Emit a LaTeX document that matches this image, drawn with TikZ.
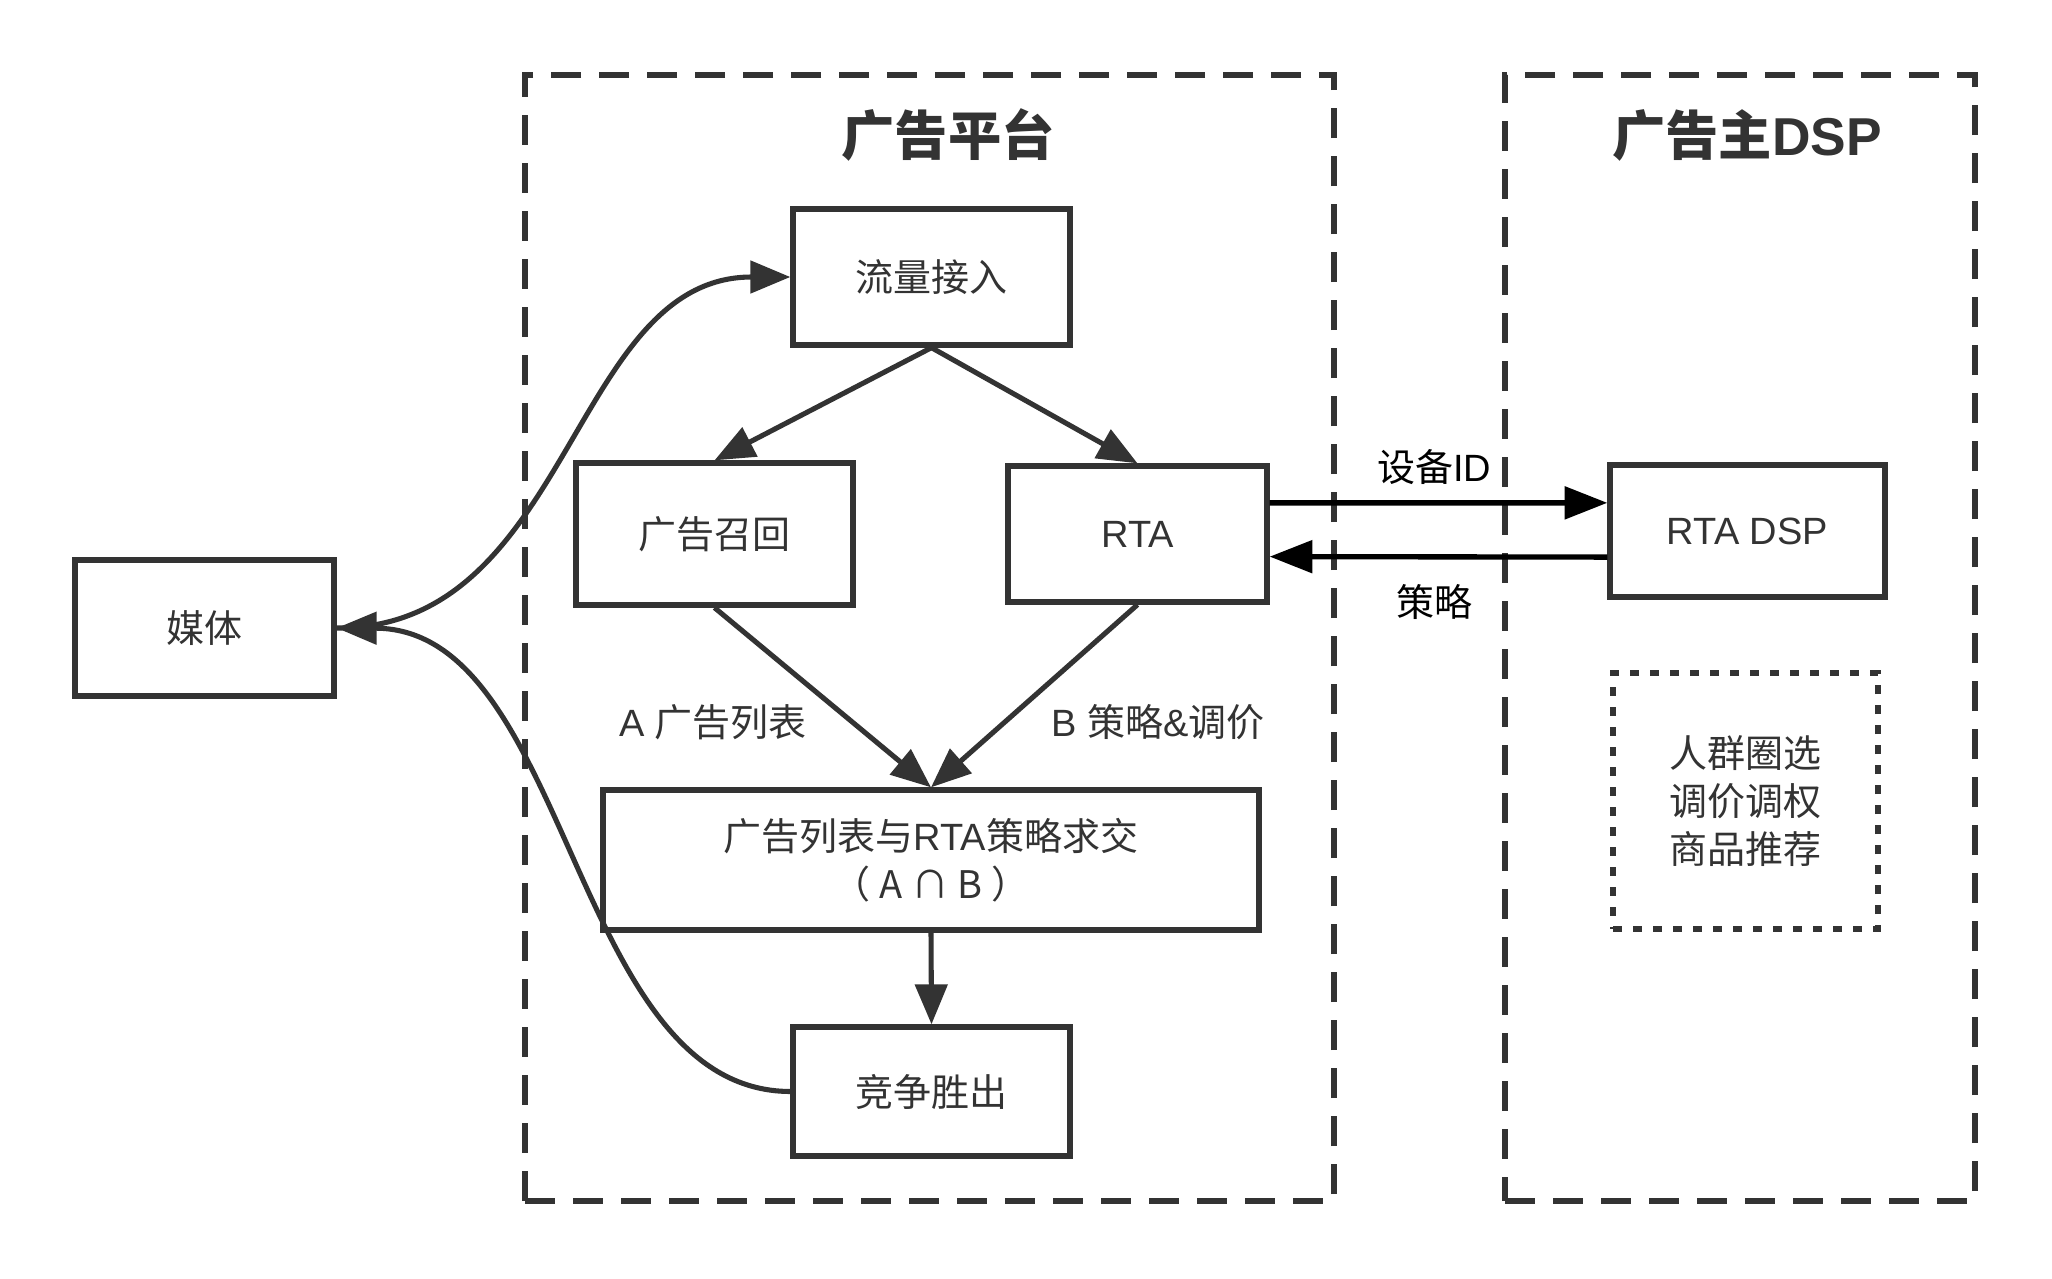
\documentclass[tikz,border=0pt]{standalone}
\usepackage{fontspec}
\setmainfont{Liberation Sans}
\newfontfamily\cjk{Noto Sans CJK SC}
\usetikzlibrary{arrows.meta,calc}
\definecolor{ink}{HTML}{333333}
\begin{document}
\begin{tikzpicture}[x=0.75pt,y=-0.75pt,
  sz/.style 2 args={minimum width={#1*0.75pt},minimum height={#2*0.75pt}},
  box/.style={draw=ink,line width=4pt,text=ink,inner sep=0pt,font=\fontsize{28.5}{36}\selectfont},
  dotbox/.style={box,line width=3.8pt,dash pattern=on 6.75pt off 8.25pt},
  dashbox/.style={draw=ink,line width=4.4pt,dash pattern=on 22.5pt off 13.5pt,inner sep=0pt},
  title/.style={text=ink,inner sep=0pt,font=\fontsize{40}{48}\selectfont\bfseries},
  lbl/.style={text=ink,inner sep=0pt,font=\fontsize{28.5}{36}\selectfont},
  arr/.style={draw=ink,line width=3.8pt,-{Triangle[length=30pt,width=24pt]}},
  arrk/.style={draw=black,line width=4pt,-{Triangle[length=32pt,width=24pt]}}
]
\useasboundingbox (0,0) rectangle (2052,1278);
\fill[white] (0,0) rectangle (2052,1278);

% containers
\node[dashbox,sz={809}{1126}] (plat) at (929.5,638) {};
\node[dashbox,sz={470}{1126}] (dspgrp) at (1740,638) {};
\node[title] (plattitle) at (948,135) {\cjk 广告平台};
\node[title] (dsptitle) at (1747,135) {{\cjk 广告主}DSP};

% nodes
\node[box,sz={259}{136}] (media) at (204.5,628) {\cjk 媒体};
\node[box,sz={277}{136}] (flow) at (931.5,277) {\cjk 流量接入};
\node[box,sz={277}{142}] (recall) at (714.5,534) {\cjk 广告召回};
\node[box,sz={259}{136}] (rta) at (1137.5,534) {RTA};
\node[box,sz={656}{140},align=center] (inter) at (931,860)
  {{\cjk 广告列表与}RTA{\cjk 策略求交}\\{\cjk （ A ∩ B ）}};
\node[box,sz={277}{129}] (win) at (931.5,1091.5) {\cjk 竞争胜出};
\node[box,sz={275}{132}] (dsp) at (1747.5,531) {RTA DSP};
\node[dotbox,sz={265}{256},align=center,font=\fontsize{28.5}{36}\selectfont\cjk] (strat) at (1745.5,801)
  {人群圈选\\调价调权\\商品推荐};

% labels
\node[lbl] (la) at (713,722) {A {\cjk 广告列表}};
\node[lbl] (lb) at (1158,722) {B {\cjk 策略}\&{\cjk 调价}};
\node[lbl,text=black] (ldev) at (1434,467) {{\cjk 设备}ID};
\node[lbl,text=black] (lstr) at (1434,602) {\cjk 策略};

% connectors
\draw[arr] (flow.south) -- (recall.north);
\draw[arr] (flow.south) -- (rta.north);
\draw[arr] (recall.south) -- (inter.north);
\draw[arr] (rta.south) -- (inter.north);
\draw[arr] (inter.south) -- (win.north);
\draw[arr] (media.east) .. controls (571,629) and (571,277) .. (flow.west);
\draw[arr] (win.west) .. controls (571,1091) and (571,629) .. (media.east);
\draw[arrk] ($(rta.north east)!0.28!(rta.south east)$) -- ($(dsp.north west)!0.295!(dsp.south west)$);
\draw[arrk] ($(dsp.north west)!0.69!(dsp.south west)$) -- ($(rta.north east)!0.66!(rta.south east)$);
\end{tikzpicture}
\end{document}
